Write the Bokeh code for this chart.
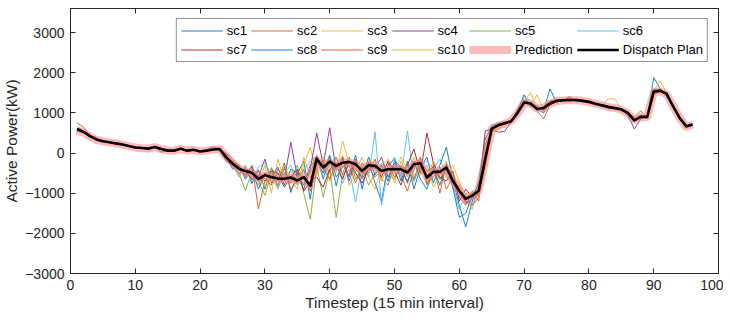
from bokeh.plotting import figure
from bokeh.models import Legend, LegendItem, LinearAxis, Range1d, FixedTicker
from bokeh.embed import file_html
from bokeh.resources import INLINE

timestep = list(range(1, 97))

sc1 = [560, 510, 430, 330, 300, 280, 230, 220, 170, 150, 120, 100, 160, 110, 50, 70, 100, 70, 90, 30, 70, 80, 110,
       -60, -300, -520, -350, -760, -420, -900, -380, -700, -250, -980, -520, -200, -1150, -60, -650, -100, -820, -150, -600,
       -50, -900, -200, -750, -1200, -300, -150, -700, -200, -900, -350, -100, -750, -300, 150, -650, -1300, -1840, -1200, -700, 350,
       660, 700, 720, 800, 1050, 1450, 1150, 1180, 1050, 1600, 1250, 1350, 1280, 1340, 1300, 1260, 1220, 1150, 1130, 1080,
       1070, 1000, 780, 920, 860, 1880, 1600, 1400, 1150, 900, 650, 720]
sc2 = [750, 650, 450, 380, 280, 260, 250, 200, 180, 130, 140, 120, 140, 90, 70, 50, 120, 50, 70, 50, 50, 100, 120,
       -30, -200, -300, -600, -300, -1390, -700, -450, -800, -350, -900, -700, -400, -950, -300, -200, -500, -100, -550, -300,
       -750, -250, -500, -150, -650, -800, -300, -550, -950, -400, -100, -800, -300, -1000, -250, -700, -1100, -1300, -950, -1200, 200,
       600, 750, 780, 750, 1000, 1300, 1250, 1050, 850, 1200, 1280, 1300, 1380, 1300, 1320, 1250, 1200, 1210, 1100, 1100,
       1050, 980, 850, 950, 880, 1500, 1520, 1450, 1200, 850, 620, 690]
sc3 = [620, 550, 400, 350, 310, 250, 260, 210, 160, 150, 110, 120, 140, 100, 70, 60, 100, 60, 90, 50, 60, 80, 90,
       -150, -250, -450, -400, -550, -800, -300, -1000, -150, -700, -450, -750, -300, 150, -550, -150, -700, -300, -50, -800,
       -450, -100, -600, -900, -350, -150, -750, -200, -600, -100, -550, -300, -850, -550, -200, -900, -800, -1200, -1400, -800, 100,
       550, 600, 700, 820, 980, 1250, 1200, 1450, 1100, 1250, 1350, 1280, 1300, 1350, 1280, 1290, 1240, 1200, 1350, 1350,
       1100, 1020, 830, 880, 920, 1550, 1800, 1500, 1180, 880, 680, 700]
sc4 = [580, 520, 430, 320, 290, 280, 230, 230, 170, 130, 130, 100, 150, 20, 60, 70, 110, 70, 80, 40, 70, 160, 100,
       -100, -280, -420, -550, -350, -600, -150, -750, -500, -650, 270, -600, -900, -400, 500, -300, 630, -450, -100, -700,
       -200, -500, -250, -400, -100, -600, -250, -400, -700, -300, -200, -450, -350, -650, -400, -500, -1000, -1250, -1150, -1050, -300,
       580, 520, 540, 780, 1100, 1320, 1250, 1120, 1150, 1200, 1280, 1300, 1400, 1280, 1330, 1270, 1230, 1170, 1120, 1100,
       1080, 950, 600, 850, 920, 1450, 1550, 1480, 1150, 860, 660, 700]
sc5 = [590, 540, 410, 340, 300, 260, 240, 210, 180, 140, 120, 110, 140, 100, 60, 50, 110, 60, 80, 40, 60, 90, 100,
       -120, -350, -500, -940, -450, -700, -1050, -500, -850, -400, -700, -300, -1000, -1650, -350, -1100, -400, -1600, -500, -100,
       -650, -350, -800, -500, -250, -550, -650, -300, -450, -700, -250, -550, -400, -650, -500, -550, -900, -1100, -1000, -1050, -100,
       620, 680, 750, 800, 1020, 1280, 1230, 1100, 1130, 1230, 1300, 1320, 1310, 1330, 1290, 1280, 1220, 1180, 1150, 1110,
       1090, 1000, 830, 900, 910, 1600, 1580, 1460, 1170, 880, 680, 700]
sc6 = [610, 520, 420, 350, 290, 270, 250, 200, 170, 140, 130, 110, 150, 100, 50, 60, 100, 70, 80, 40, 60, 90, 100,
       -80, -280, -600, -300, -700, -350, -250, -550, -900, -500, -300, -800, -450, -200, -100, -600, -300, -100, -750, -400,
       -1220, -300, -600, 530, -1300, -400, -100, -600, 550, -700, -300, -200, -400, -150, -550, -800, -1400, -1000, -1300, -900, 0,
       640, 720, 760, 790, 1000, 1400, 1300, 1130, 1100, 1250, 1290, 1310, 1320, 1300, 1310, 1280, 1210, 1190, 1150, 1130,
       1090, 990, 810, 900, 900, 1550, 1600, 1480, 1160, 870, 670, 700]
sc7 = [550, 510, 420, 340, 300, 270, 230, 220, 170, 140, 120, 110, 140, 100, 60, 70, 100, 50, 80, 40, 60, 80, 100,
       -200, -300, -400, -450, -650, -550, -700, -450, -500, -850, -600, -400, -950, -700, -600, -850, -400, -300, -650, -200,
       -500, -750, -400, -300, -600, -200, -450, -800, -300, 100, -500, 500, -250, -600, -700, -450, -1200, -900, -1100, -1000, 550,
       600, 700, 730, 780, 990, 1260, 1240, 1080, 1150, 1300, 1320, 1330, 1300, 1330, 1300, 1260, 1220, 1200, 1140, 1120,
       1080, 1010, 820, 900, 890, 1520, 1550, 1470, 1150, 870, 660, 710]
sc8 = [600, 540, 410, 340, 300, 270, 240, 210, 180, 140, 120, 110, 150, 110, 60, 60, 110, 60, 80, 40, 60, 90, 100,
       -50, -400, -300, -650, -400, -900, -500, -600, -350, -800, -400, -500, -800, -300, -200, -500, -50, -600, -350, -250,
       -400, -600, -100, -550, -300, -700, -200, -350, -750, -200, -650, -900, -400, -800, -300, -850, -1600, -1500, -1050, -800, -200,
       700, 720, 740, 800, 1010, 1280, 1220, 1090, 1000, 1250, 1300, 1290, 1330, 1310, 1290, 1280, 1230, 1180, 1150, 1120,
       1100, 1000, 800, 910, 900, 1560, 1560, 1470, 1170, 870, 670, 710]
sc9 = [620, 560, 440, 350, 290, 270, 250, 210, 170, 150, 120, 100, 150, 100, 60, 60, 110, 60, 80, 40, 60, 90, 100,
       0, -150, -350, -500, -600, -450, -650, -800, -400, -550, -750, -450, -650, -500, -100, -400, -650, -250, -300, -550,
       -150, -650, -350, -600, -450, -250, -600, -350, -400, -650, -150, -750, -600, -350, -900, -600, -1000, -1200, -1300, -1100, -50,
       620, 690, 760, 770, 1000, 1250, 1240, 1100, 1130, 1220, 1290, 1330, 1310, 1320, 1310, 1270, 1240, 1190, 1160, 1110,
       1080, 1000, 900, 1050, 880, 1500, 1540, 1490, 1160, 880, 660, 690]
sc10 = [600, 530, 420, 340, 300, 270, 240, 220, 170, 140, 130, 110, 150, 100, 60, 60, 110, 60, 80, 40, 60, 90, 100,
        -100, -200, -550, -400, -450, -600, -850, -350, -600, -300, -650, -900, -100, -600, -400, -100, -350, -500, 300, -250,
        -350, -550, -200, -250, -700, -350, -500, -100, -450, -550, -400, -650, -200, -450, -600, -300, -700, -1150, -1000, -1100, -400,
        520, 600, 720, 800, 1000, 1270, 1500, 1100, 1120, 1250, 1310, 1300, 1320, 1310, 1300, 1280, 1230, 1190, 1150, 1120,
        1090, 1000, 820, 890, 900, 1520, 1560, 1480, 1160, 870, 670, 700]

prediction = [570, 510, 410, 330, 290, 265, 240, 210, 170, 140, 120, 110, 145, 100, 65, 60, 105, 65, 80, 45, 60, 85, 100,
              -80, -250, -380, -460, -500, -630, -560, -600, -630, -640, -620, -670, -610, -790, -170, -350, -230, -310, -250, -230,
              -290, -430, -310, -330, -440, -400, -400, -410, -470, -290, -270, -590, -480, -460, -380, -680, -920, -1120, -1070, -930, -180,
              590, 680, 730, 800, 990, 1250, 1230, 1110, 1120, 1230, 1290, 1310, 1320, 1315, 1300, 1270, 1230, 1190, 1150, 1120,
              1080, 990, 830, 890, 900, 1510, 1540, 1460, 1170, 880, 660, 700]
dispatch_plan = [600, 530, 420, 340, 295, 270, 240, 215, 175, 140, 125, 110, 150, 100, 60, 60, 110, 60, 80, 40, 60, 90, 100,
                 -100, -260, -390, -450, -490, -650, -550, -600, -635, -640, -610, -685, -600, -815, -140, -360, -215, -320, -240, -220,
                 -280, -445, -305, -320, -445, -405, -400, -405, -485, -280, -255, -610, -470, -470, -360, -690, -940, -1140, -1060, -940, -150,
                 600, 690, 740, 790, 1000, 1260, 1235, 1095, 1120, 1235, 1300, 1315, 1320, 1320, 1300, 1275, 1230, 1190, 1150, 1120,
                 1090, 1000, 815, 900, 900, 1530, 1555, 1475, 1160, 875, 670, 710]

scenario_names = ["sc1", "sc2", "sc3", "sc4", "sc5", "sc6", "sc7", "sc8", "sc9", "sc10"]
scenarios = [sc1, sc2, sc3, sc4, sc5, sc6, sc7, sc8, sc9, sc10]
scenario_colors = ["#0072BD", "#D95319", "#EDB120", "#7E2F8E", "#77AC30",
                   "#4DBEEE", "#A2142F", "#0072BD", "#D95319", "#EDB120"]
y_ticks = [-3000, -2000, -1000, 0, 1000, 2000, 3000]
x_ticks = [0, 10, 20, 30, 40, 50, 60, 70, 80, 90, 100]

for s in scenarios + [prediction, dispatch_plan]:
    assert len(s) == 96, len(s)

FONT = "Liberation Sans"
AX = "#262626"

p = figure(width=723, height=313, output_backend="svg", toolbar_location=None,
           x_range=Range1d(0, 100), y_range=Range1d(-3000, 3600),
           min_border_left=67, min_border_right=5, min_border_top=8, min_border_bottom=40)
p.xgrid.visible = False
p.ygrid.visible = False
p.outline_line_color = AX
p.outline_line_width = 1
p.background_fill_color = "white"
p.border_fill_color = "white"

for ax in (p.xaxis[0], p.yaxis[0]):
    ax.major_tick_in = 5
    ax.major_tick_out = 0
    ax.minor_tick_line_color = None
    ax.axis_line_color = AX
    ax.major_tick_line_color = AX
    ax.major_label_text_font = FONT
    ax.major_label_text_font_size = "14px"
    ax.major_label_text_color = AX
    ax.axis_label_text_font = FONT
    ax.axis_label_text_font_size = "15.5px"
    ax.axis_label_text_font_style = "normal"
    ax.axis_label_text_color = AX

p.xaxis[0].ticker = FixedTicker(ticks=x_ticks)
p.yaxis[0].ticker = FixedTicker(ticks=y_ticks)
p.xaxis[0].axis_label = "Timestep (15 min interval)"
p.yaxis[0].axis_label = "Active Power(kW)"
p.xaxis[0].major_label_standoff = 6
p.yaxis[0].major_label_standoff = 6
p.xaxis[0].axis_label_standoff = 1
p.yaxis[0].axis_label_standoff = 2

top_ax = LinearAxis(ticker=FixedTicker(ticks=x_ticks), major_tick_in=5, major_tick_out=0,
                    minor_tick_line_color=None, major_label_overrides={t: "" for t in x_ticks},
                    major_label_standoff=0, axis_line_color=AX, major_tick_line_color=AX)
right_ax = LinearAxis(ticker=FixedTicker(ticks=y_ticks), major_tick_in=5, major_tick_out=0,
                      minor_tick_line_color=None, major_label_overrides={t: "" for t in y_ticks},
                      major_label_standoff=0, axis_line_color=AX, major_tick_line_color=AX)
p.add_layout(top_ax, "above")
p.add_layout(right_ax, "right")

items = []
for name, vals, col in zip(scenario_names, scenarios, scenario_colors):
    r = p.line(timestep, vals, line_color=col, line_width=1, line_alpha=0.9)
    items.append(LegendItem(label=name, renderers=[r]))

rp = p.line(timestep, prediction, line_color="#FF8080", line_width=8, line_alpha=0.55,
            line_join="round", line_cap="butt")
rd = p.line(timestep, dispatch_plan, line_color="black", line_width=2.6, line_join="round")
items.append(LegendItem(label="Prediction", renderers=[rp]))
items.append(LegendItem(label="Dispatch Plan", renderers=[rd]))

legend = Legend(items=items, location="top_right", orientation="horizontal", ncols=6,
                glyph_width=42, glyph_height=13, label_height=13, label_standoff=4,
                spacing=4, padding=4, margin=10,
                label_text_font=FONT, label_text_font_size="13px", label_text_color="black",
                border_line_color=AX, border_line_width=1, background_fill_alpha=1)
p.add_layout(legend, "center")

open("out.html", "w").write(file_html(p, INLINE))
